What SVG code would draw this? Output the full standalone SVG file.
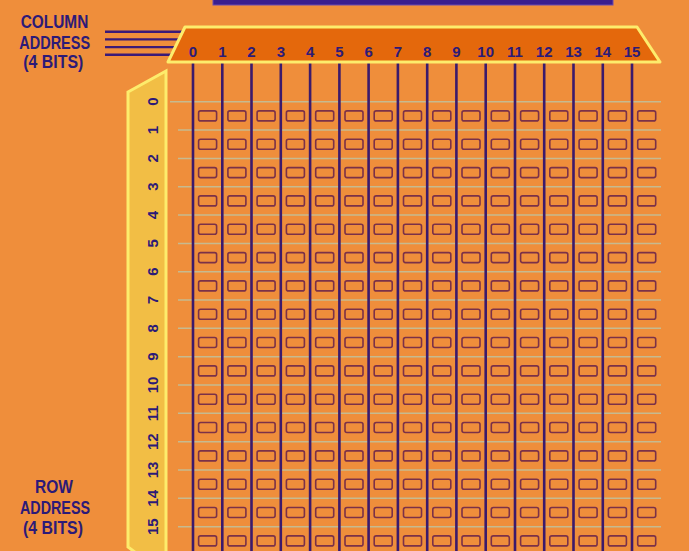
<svg xmlns="http://www.w3.org/2000/svg" xmlns:xlink="http://www.w3.org/1999/xlink" width="689" height="551" viewBox="0 0 689 551">
<style>
.lbl{font-family:"Liberation Sans",Arial,sans-serif;font-weight:bold;fill:#2C1A78;}
.big{font-size:18px;text-anchor:middle;}
.num{font-size:15px;text-anchor:middle;}
.col{stroke:#3B1A6C;stroke-width:2.6;}
.row{stroke:#C6BA90;stroke-width:1.5;}
.addr{stroke:#3A1A78;stroke-width:2.4;}
.cell{fill:none;stroke:#7B3148;stroke-width:1.6;}
</style>
<defs>
<g id="cellrow">
<rect class="cell" x="198.6" y="0" width="18" height="10" rx="2"/>
<rect class="cell" x="227.9" y="0" width="18" height="10" rx="2"/>
<rect class="cell" x="257.1" y="0" width="18" height="10" rx="2"/>
<rect class="cell" x="286.4" y="0" width="18" height="10" rx="2"/>
<rect class="cell" x="315.7" y="0" width="18" height="10" rx="2"/>
<rect class="cell" x="345.0" y="0" width="18" height="10" rx="2"/>
<rect class="cell" x="374.2" y="0" width="18" height="10" rx="2"/>
<rect class="cell" x="403.5" y="0" width="18" height="10" rx="2"/>
<rect class="cell" x="432.8" y="0" width="18" height="10" rx="2"/>
<rect class="cell" x="462.0" y="0" width="18" height="10" rx="2"/>
<rect class="cell" x="491.3" y="0" width="18" height="10" rx="2"/>
<rect class="cell" x="520.6" y="0" width="18" height="10" rx="2"/>
<rect class="cell" x="549.8" y="0" width="18" height="10" rx="2"/>
<rect class="cell" x="579.1" y="0" width="18" height="10" rx="2"/>
<rect class="cell" x="608.4" y="0" width="18" height="10" rx="2"/>
<rect class="cell" x="637.7" y="0" width="18" height="10" rx="2"/>
</g>
</defs>
<rect width="689" height="551" fill="#EF8E3B"/>
<rect id="top-bar" x="213" y="-2" width="400" height="7" fill="#3A1E8E" stroke="#6A4AB0" stroke-width="1"/>

<g id="row-decoder">
<polygon points="128,92 166,71 166,575 128,547" fill="#F2BE45" stroke="#FDEC6C" stroke-width="3"/>
<g class="lbl num">
<text x="158" y="101.7" transform="rotate(-90 158 101.7)">0</text>
<text x="158" y="130.0" transform="rotate(-90 158 130.0)">1</text>
<text x="158" y="158.4" transform="rotate(-90 158 158.4)">2</text>
<text x="158" y="186.7" transform="rotate(-90 158 186.7)">3</text>
<text x="158" y="215.0" transform="rotate(-90 158 215.0)">4</text>
<text x="158" y="243.4" transform="rotate(-90 158 243.4)">5</text>
<text x="158" y="271.7" transform="rotate(-90 158 271.7)">6</text>
<text x="158" y="300.0" transform="rotate(-90 158 300.0)">7</text>
<text x="158" y="328.3" transform="rotate(-90 158 328.3)">8</text>
<text x="158" y="356.7" transform="rotate(-90 158 356.7)">9</text>
<text x="158" y="385.0" transform="rotate(-90 158 385.0)">10</text>
<text x="158" y="413.3" transform="rotate(-90 158 413.3)">11</text>
<text x="158" y="441.7" transform="rotate(-90 158 441.7)">12</text>
<text x="158" y="470.0" transform="rotate(-90 158 470.0)">13</text>
<text x="158" y="498.3" transform="rotate(-90 158 498.3)">14</text>
<text x="158" y="526.7" transform="rotate(-90 158 526.7)">15</text>
</g>
</g>

<g id="connectors">
<g id="row-lines" class="row">
<line x1="170" y1="101.7" x2="661" y2="101.7"/>
<line x1="178" y1="130.0" x2="661" y2="130.0"/>
<line x1="178" y1="158.4" x2="661" y2="158.4"/>
<line x1="178" y1="186.7" x2="661" y2="186.7"/>
<line x1="178" y1="215.0" x2="661" y2="215.0"/>
<line x1="178" y1="243.4" x2="661" y2="243.4"/>
<line x1="178" y1="271.7" x2="661" y2="271.7"/>
<line x1="178" y1="300.0" x2="661" y2="300.0"/>
<line x1="178" y1="328.3" x2="661" y2="328.3"/>
<line x1="178" y1="356.7" x2="661" y2="356.7"/>
<line x1="178" y1="385.0" x2="661" y2="385.0"/>
<line x1="178" y1="413.3" x2="661" y2="413.3"/>
<line x1="178" y1="441.7" x2="661" y2="441.7"/>
<line x1="178" y1="470.0" x2="661" y2="470.0"/>
<line x1="178" y1="498.3" x2="661" y2="498.3"/>
<line x1="178" y1="526.7" x2="661" y2="526.7"/>
</g>
<g id="column-lines" class="col">
<line x1="193.0" y1="60" x2="193.0" y2="551"/>
<line x1="222.3" y1="60" x2="222.3" y2="551"/>
<line x1="251.5" y1="60" x2="251.5" y2="551"/>
<line x1="280.8" y1="60" x2="280.8" y2="551"/>
<line x1="310.1" y1="60" x2="310.1" y2="551"/>
<line x1="339.4" y1="60" x2="339.4" y2="551"/>
<line x1="368.6" y1="60" x2="368.6" y2="551"/>
<line x1="397.9" y1="60" x2="397.9" y2="551"/>
<line x1="427.2" y1="60" x2="427.2" y2="551"/>
<line x1="456.4" y1="60" x2="456.4" y2="551"/>
<line x1="485.7" y1="60" x2="485.7" y2="551"/>
<line x1="515.0" y1="60" x2="515.0" y2="551"/>
<line x1="544.2" y1="60" x2="544.2" y2="551"/>
<line x1="573.5" y1="60" x2="573.5" y2="551"/>
<line x1="602.8" y1="60" x2="602.8" y2="551"/>
<line x1="632.0" y1="60" x2="632.0" y2="551"/>
</g>
<g id="address-lines" class="addr">
<line x1="105" y1="31.7" x2="186" y2="31.7"/>
<line x1="105" y1="39.4" x2="186" y2="39.4"/>
<line x1="105" y1="47.1" x2="186" y2="47.1"/>
<line x1="105" y1="54.8" x2="186" y2="54.8"/>
</g>
</g>

<g id="memory-cells">
<use xlink:href="#cellrow" href="#cellrow" y="110.9"/>
<use xlink:href="#cellrow" href="#cellrow" y="139.2"/>
<use xlink:href="#cellrow" href="#cellrow" y="167.6"/>
<use xlink:href="#cellrow" href="#cellrow" y="195.9"/>
<use xlink:href="#cellrow" href="#cellrow" y="224.2"/>
<use xlink:href="#cellrow" href="#cellrow" y="252.6"/>
<use xlink:href="#cellrow" href="#cellrow" y="280.9"/>
<use xlink:href="#cellrow" href="#cellrow" y="309.2"/>
<use xlink:href="#cellrow" href="#cellrow" y="337.5"/>
<use xlink:href="#cellrow" href="#cellrow" y="365.9"/>
<use xlink:href="#cellrow" href="#cellrow" y="394.2"/>
<use xlink:href="#cellrow" href="#cellrow" y="422.5"/>
<use xlink:href="#cellrow" href="#cellrow" y="450.9"/>
<use xlink:href="#cellrow" href="#cellrow" y="479.2"/>
<use xlink:href="#cellrow" href="#cellrow" y="507.5"/>
<use xlink:href="#cellrow" href="#cellrow" y="535.9"/>
</g>

<g id="column-decoder">
<polygon points="185,27 637,27 660,62 168,62" fill="#E4680C" stroke="#FDEC6C" stroke-width="3" stroke-linejoin="round"/>
<g class="lbl num">
<text x="193.0" y="57">0</text>
<text x="222.3" y="57">1</text>
<text x="251.5" y="57">2</text>
<text x="280.8" y="57">3</text>
<text x="310.1" y="57">4</text>
<text x="339.4" y="57">5</text>
<text x="368.6" y="57">6</text>
<text x="397.9" y="57">7</text>
<text x="427.2" y="57">8</text>
<text x="456.4" y="57">9</text>
<text x="485.7" y="57">10</text>
<text x="515.0" y="57">11</text>
<text x="544.2" y="57">12</text>
<text x="573.5" y="57">13</text>
<text x="602.8" y="57">14</text>
<text x="632.0" y="57">15</text>
</g>
</g>

<g id="column-address-label" class="lbl big">
<text x="54.5" y="28.3" textLength="67.6" lengthAdjust="spacingAndGlyphs">COLUMN</text>
<text x="54.7" y="48.8" textLength="70.7" lengthAdjust="spacingAndGlyphs">ADDRESS</text>
<text x="53.3" y="68.3" textLength="60" lengthAdjust="spacingAndGlyphs">(4 BITS)</text>
</g>

<g id="row-address-label" class="lbl big">
<text x="54" y="493.3" textLength="38" lengthAdjust="spacingAndGlyphs">ROW</text>
<text x="55" y="513.5" textLength="70" lengthAdjust="spacingAndGlyphs">ADDRESS</text>
<text x="53" y="534" textLength="60" lengthAdjust="spacingAndGlyphs">(4 BITS)</text>
</g>
</svg>
